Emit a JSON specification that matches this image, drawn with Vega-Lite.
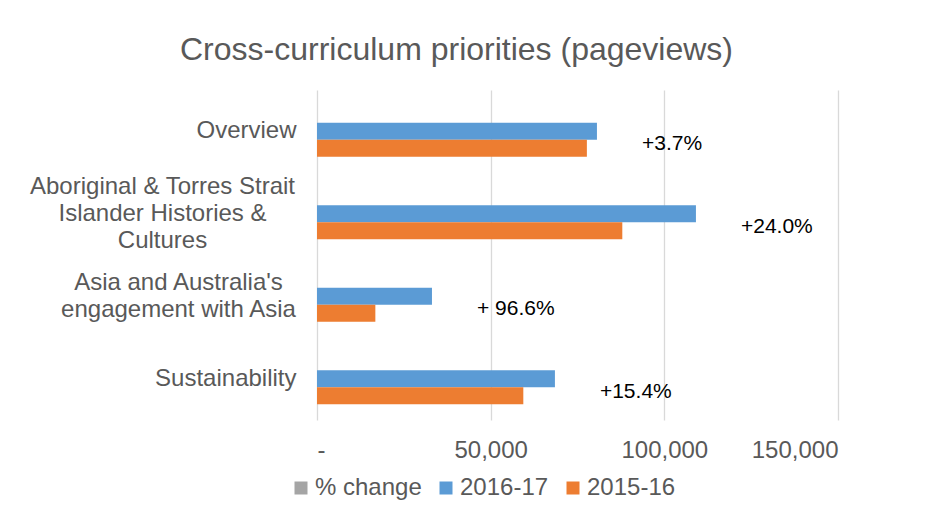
{
  "$schema": "https://vega.github.io/schema/vega-lite/v6.json",
  "width": 521,
  "height": 330,
  "autosize": {"type": "none"},
  "padding": {"left": 317, "top": 90, "right": 103, "bottom": 99},
  "background": "white",
  "config": {
    "font": "Liberation Sans",
    "view": {"stroke": null}
  },
  "title": {
    "text": "Cross-curriculum priorities (pageviews)",
    "font": "Liberation Sans",
    "fontSize": 32,
    "fontWeight": "normal",
    "color": "#595959",
    "anchor": "middle",
    "frame": "group",
    "baseline": "alphabetic",
    "offset": 28,
    "dx": -121,
    "dy": 30
  },
  "data": {
    "values": [
      {"category": "Overview", "2016-17": 80600, "2015-16": 77700, "% change": 0.037, "label": "+3.7%"},
      {"category": "Aboriginal & Torres Strait Islander Histories & Cultures", "2016-17": 109100, "2015-16": 87900, "% change": 0.24, "label": "+24.0%"},
      {"category": "Asia and Australia's engagement with Asia", "2016-17": 33100, "2015-16": 16800, "% change": 0.966, "label": "+ 96.6%"},
      {"category": "Sustainability", "2016-17": 68500, "2015-16": 59400, "% change": 0.154, "label": "+15.4%"}
    ]
  },
  "layer": [
    {
      "transform": [
        {"fold": ["% change", "2016-17", "2015-16"], "as": ["series", "value"]}
      ],
      "mark": {"type": "bar", "size": 17},
      "encoding": {
        "y": {
          "field": "category",
          "type": "nominal",
          "sort": null,
          "scale": {"paddingInner": 0.382, "paddingOuter": 0.191},
          "axis": {
            "title": null,
            "domain": false,
            "ticks": false,
            "tickSize": 0,
            "labelFont": "Liberation Sans",
            "labelFontSize": 24,
            "labelColor": "#595959",
            "labelLineHeight": 27,
            "labelLimit": 400,
            "labelBaseline": "middle",
            "labelAlign": {
              "condition": {"test": "datum.value == 'Overview' || datum.value == 'Sustainability'", "value": "right"},
              "value": "center"
            },
            "labelPadding": {
              "condition": [
                {"test": "datum.value == 'Aboriginal & Torres Strait Islander Histories & Cultures'", "value": 155},
                {"test": "datum.value == \"Asia and Australia's engagement with Asia\"", "value": 139}
              ],
              "value": 21
            },
            "labelOffset": {
              "condition": [
                {"test": "datum.value == 'Aboriginal & Torres Strait Islander Histories & Cultures'", "value": -27},
                {"test": "datum.value == \"Asia and Australia's engagement with Asia\"", "value": -13}
              ],
              "value": 0
            },
            "labelExpr": "datum.value == 'Aboriginal & Torres Strait Islander Histories & Cultures' ? ['Aboriginal & Torres Strait', 'Islander Histories &', 'Cultures'] : (datum.value == \"Asia and Australia's engagement with Asia\" ? [\"Asia and Australia's\", 'engagement with Asia'] : datum.value)"
          }
        },
        "yOffset": {
          "field": "series",
          "type": "nominal",
          "sort": ["% change", "2016-17", "2015-16"],
          "scale": {"paddingInner": 0, "paddingOuter": 0}
        },
        "x": {
          "field": "value",
          "type": "quantitative",
          "scale": {"domain": [0, 150000], "nice": false},
          "axis": {
            "title": null,
            "domain": false,
            "ticks": false,
            "tickSize": 0,
            "values": [0, 50000, 100000, 150000],
            "grid": true,
            "gridColor": "#d9d9d9",
            "gridWidth": 1.3,
            "labelFont": "Liberation Sans",
            "labelFontSize": 24,
            "labelColor": "#595959",
            "labelPadding": 18,
            "labelExpr": "datum.value == 0 ? '-' : format(datum.value, ',')"
          }
        },
        "color": {
          "field": "series",
          "type": "nominal",
          "sort": ["% change", "2016-17", "2015-16"],
          "scale": {"domain": ["% change", "2016-17", "2015-16"], "range": ["#A5A5A5", "#5B9BD5", "#ED7D31"]},
          "legend": {
            "title": null,
            "orient": "none",
            "direction": "horizontal",
            "legendX": -28,
            "legendY": 386,
            "symbolType": "square",
            "symbolSize": 169,
            "symbolStrokeWidth": 0,
            "labelFont": "Liberation Sans",
            "labelFontSize": 24,
            "labelColor": "#595959",
            "labelOffset": 2,
            "columnPadding": 12,
            "padding": 0
          }
        }
      }
    },
    {
      "mark": {"type": "text", "align": "left", "baseline": "middle", "dx": 45, "dy": 13, "fontSize": 21, "font": "Liberation Sans", "color": "#000000"},
      "encoding": {
        "y": {"field": "category", "type": "nominal", "sort": null},
        "x": {"field": "2016-17", "type": "quantitative"},
        "text": {"field": "label", "type": "nominal"}
      }
    }
  ]
}
